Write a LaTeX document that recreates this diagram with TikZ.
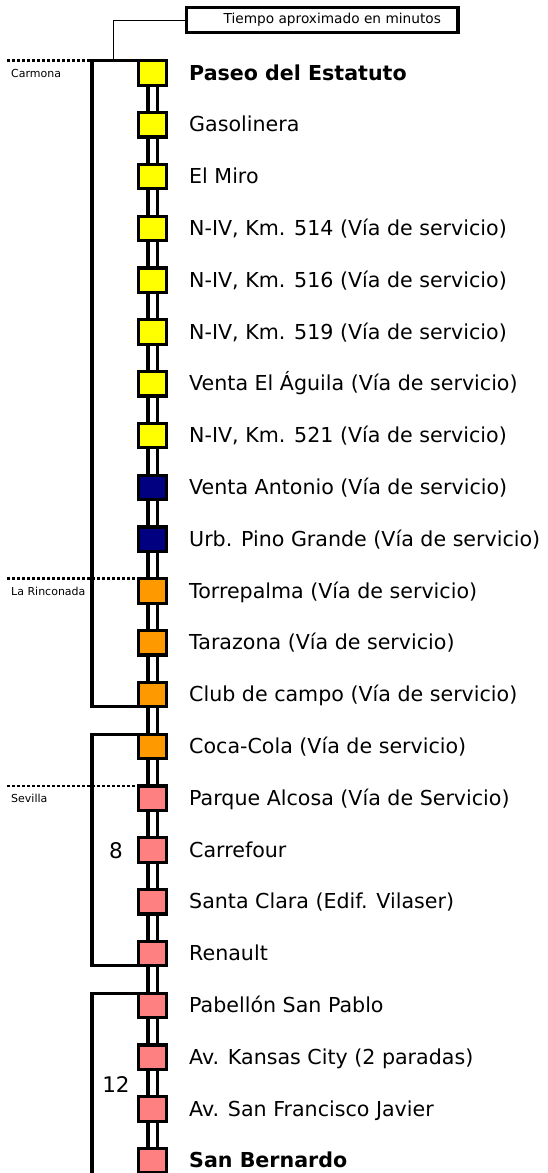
\documentclass[tikz,border=0pt]{standalone}
\usepackage{fontspec}
\setmainfont{DejaVu Sans}
\definecolor{yel}{HTML}{FFFF00}
\definecolor{nav}{HTML}{000080}
\definecolor{orn}{HTML}{FF9900}
\definecolor{pnk}{HTML}{FF8080}
\begin{document}
\begin{tikzpicture}[x=1pt,y=-1pt,
  stop/.style={draw, line width=3.2pt, minimum width=28.4pt, minimum height=24.4pt, inner sep=0pt, outer sep=0pt},
  rail/.style={line width=3.2pt},
  bracket/.style={line width=3.2pt},
  lbl/.style={anchor=base west, inner sep=0pt, font=\fontsize{20.6}{24}\selectfont},
  town/.style={anchor=base west, inner sep=0pt, font=\fontsize{11}{13}\selectfont},
  mins/.style={inner sep=0pt, font=\fontsize{21.5}{24}\selectfont},
  border/.style={dash pattern=on 3pt off 2pt, line width=2.8pt},
  leader/.style={line width=1pt}]
\useasboundingbox (0,0) rectangle (547,1173);
% stations
\foreach \i/\c in {0/yel,1/yel,2/yel,3/yel,4/yel,5/yel,6/yel,7/yel,8/nav,9/nav,10/orn,11/orn,12/orn,13/orn,14/pnk,15/pnk,16/pnk,17/pnk,18/pnk,19/pnk,20/pnk,21/pnk}{
  \pgfmathsetmacro{\yy}{73+51.8*\i}
  \node[stop, fill=\c] (s\i) at (152.5,\yy) {};
}
% rails
\foreach \i in {0,...,20}{
  \pgfmathtruncatemacro{\j}{\i+1}
  \draw[rail] ([xshift=-4.6pt]s\i.south) -- ([xshift=-4.6pt]s\j.north);
  \draw[rail] ([xshift=4.6pt]s\i.south) -- ([xshift=4.6pt]s\j.north);
}
% station names
\path (s0.center) ++(36.5,7) node[lbl] (t0) {\textbf{Paseo del Estatuto}};
\path (s1.center) ++(36.5,7) node[lbl] (t1) {Gasolinera};
\path (s2.center) ++(36.5,7) node[lbl] (t2) {El Miro};
\path (s3.center) ++(36.5,7) node[lbl] (t3) {N-IV, Km. 514 (Vía de servicio)};
\path (s4.center) ++(36.5,7) node[lbl] (t4) {N-IV, Km. 516 (Vía de servicio)};
\path (s5.center) ++(36.5,7) node[lbl] (t5) {N-IV, Km. 519 (Vía de servicio)};
\path (s6.center) ++(36.5,7) node[lbl] (t6) {Venta El Águila (Vía de servicio)};
\path (s7.center) ++(36.5,7) node[lbl] (t7) {N-IV, Km. 521 (Vía de servicio)};
\path (s8.center) ++(36.5,7) node[lbl] (t8) {Venta Antonio (Vía de servicio)};
\path (s9.center) ++(36.5,7) node[lbl] (t9) {Urb. Pino Grande (Vía de servicio)};
\path (s10.center) ++(36.5,7) node[lbl] (t10) {Torrepalma (Vía de servicio)};
\path (s11.center) ++(36.5,7) node[lbl] (t11) {Tarazona (Vía de servicio)};
\path (s12.center) ++(36.5,7) node[lbl] (t12) {Club de campo (Vía de servicio)};
\path (s13.center) ++(36.5,7) node[lbl] (t13) {Coca-Cola (Vía de servicio)};
\path (s14.center) ++(36.5,7) node[lbl] (t14) {Parque Alcosa (Vía de Servicio)};
\path (s15.center) ++(36.5,7) node[lbl] (t15) {Carrefour};
\path (s16.center) ++(36.5,7) node[lbl] (t16) {Santa Clara (Edif. Vilaser)};
\path (s17.center) ++(36.5,7) node[lbl] (t17) {Renault};
\path (s18.center) ++(36.5,7) node[lbl] (t18) {Pabellón San Pablo};
\path (s19.center) ++(36.5,7) node[lbl] (t19) {Av. Kansas City (2 paradas)};
\path (s20.center) ++(36.5,7) node[lbl] (t20) {Av. San Francisco Javier};
\path (s21.center) ++(36.5,7) node[lbl] (t21) {\textbf{San Bernardo}};
% brackets
\coordinate (bx) at (92,0);
\coordinate (dx) at (7,0);
\coordinate (bot) at (0,1185);
\draw[bracket] (s0.north west) -- (s0.north west -| bx) -- (s12.south west -| bx) -- (s12.south west);
\draw[bracket] (s13.north west) -- (s13.north west -| bx) -- (s17.south west -| bx) -- (s17.south west);
\draw[bracket] (s18.north west) -- (s18.north west -| bx) -- (bot -| bx);
\node[mins] (m8) at (116,851) {8};
\node[mins] (m12) at (116,1084.5) {12};
% municipal borders
\draw[border] (s0.north west -| dx) -- (s0.north west -| bx);
\draw[border] (s10.north west -| dx) -- (s10.north west);
\draw[border] (s14.north west -| dx) -- (s14.north west);
\node[town] (carmona) at (11,77.5) {Carmona};
\node[town] (rinconada) at (11,595.5) {La Rinconada};
\node[town] (sevilla) at (11,802.7) {Sevilla};
% legend box
\node[draw, line width=3.2pt, minimum width=271.5pt, minimum height=25pt, inner sep=0pt, outer sep=0pt,
      font=\fontsize{13.7}{16}\selectfont] (box) at (322.25,20) {\hspace*{20pt}Tiempo aproximado en minutos};
\coordinate (lx) at (113.5,60.7);
\draw[leader] (lx) |- (box.west);
\end{tikzpicture}
\end{document}
